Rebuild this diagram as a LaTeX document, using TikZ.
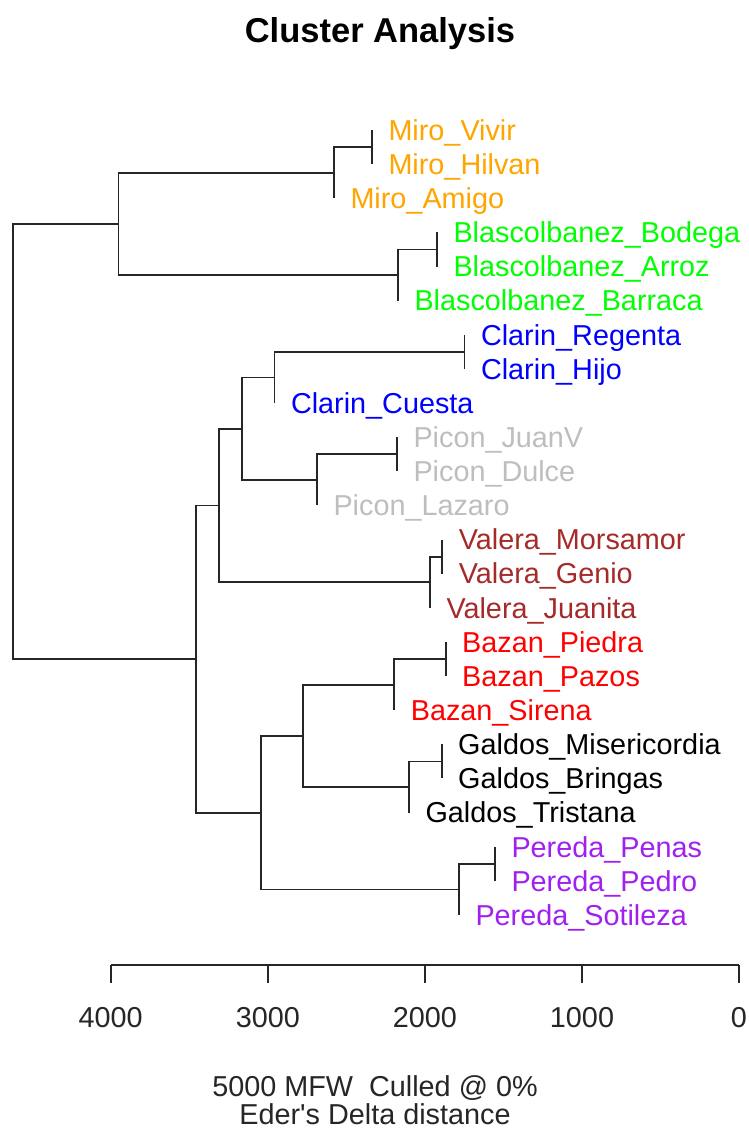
\documentclass[tikz,border=0pt]{standalone}
\usepackage{fontspec}
\setmainfont{Liberation Sans}[Ligatures=TeXOff]
\definecolor{rorange}{HTML}{FFA500}
\definecolor{rgreen}{HTML}{00FF00}
\definecolor{rblue}{HTML}{0000FF}
\definecolor{rgrey}{HTML}{BEBEBE}
\definecolor{rbrown}{HTML}{A52A2A}
\definecolor{rred}{HTML}{FF0000}
\definecolor{rpurple}{HTML}{A020F0}
\newcommand\mkleaf[5]{%
  \coordinate (#1) at (#2,#3);
  \node[leaflab, text=#4] (#1lab) at (#1) {#5};}
\begin{document}
\begin{tikzpicture}[x=1pt,y=-1pt,
  branch/.style={draw=black!85, line width=1.8pt},
  leaflab/.style={anchor=base west, inner sep=0pt, xshift=16.3pt, yshift=-10.3pt,
    font=\fontsize{28.8}{34}\selectfont},
  ticklab/.style={anchor=base, inner sep=0pt, font=\fontsize{28.8}{34}\selectfont, text=black!85},
  titlelab/.style={anchor=base, inner sep=0pt, font=\fontsize{34.5}{40}\selectfont\bfseries},
  xlab/.style={anchor=base, inner sep=0pt, font=\fontsize{28.8}{34}\selectfont, text=black!85}]
\useasboundingbox (0,0) rectangle (749,1133);
\fill[white] (0,0) rectangle (749,1133);

\node[titlelab] (title) at (380,42) {Cluster Analysis};

% leaves
\mkleaf{l0}{372}{130}{rorange}{Miro\_Vivir}
\mkleaf{l1}{372}{164.13}{rorange}{Miro\_Hilvan}
\mkleaf{l2}{334}{198.26}{rorange}{Miro\_Amigo}
\mkleaf{l3}{437}{232.39}{rgreen}{Blascolbanez\_Bodega}
\mkleaf{l4}{437}{266.52}{rgreen}{Blascolbanez\_Arroz}
\mkleaf{l5}{398}{300.65}{rgreen}{Blascolbanez\_Barraca}
\mkleaf{l6}{464.5}{334.78}{rblue}{Clarin\_Regenta}
\mkleaf{l7}{464.5}{368.91}{rblue}{Clarin\_Hijo}
\mkleaf{l8}{274.5}{403.04}{rblue}{Clarin\_Cuesta}
\mkleaf{l9}{397}{437.17}{rgrey}{Picon\_JuanV}
\mkleaf{l10}{397}{471.30}{rgrey}{Picon\_Dulce}
\mkleaf{l11}{317}{505.43}{rgrey}{Picon\_Lazaro}
\mkleaf{l12}{442.3}{539.56}{rbrown}{Valera\_Morsamor}
\mkleaf{l13}{442.3}{573.69}{rbrown}{Valera\_Genio}
\mkleaf{l14}{430}{607.82}{rbrown}{Valera\_Juanita}
\mkleaf{l15}{445.7}{641.95}{rred}{Bazan\_Piedra}
\mkleaf{l16}{445.7}{676.08}{rred}{Bazan\_Pazos}
\mkleaf{l17}{394.3}{710.21}{rred}{Bazan\_Sirena}
\mkleaf{l18}{441.7}{744.34}{black}{Galdos\_Misericordia}
\mkleaf{l19}{441.7}{778.47}{black}{Galdos\_Bringas}
\mkleaf{l20}{409}{812.60}{black}{Galdos\_Tristana}
\mkleaf{l21}{495}{846.73}{rpurple}{Pereda\_Penas}
\mkleaf{l22}{495}{880.86}{rpurple}{Pereda\_Pedro}
\mkleaf{l23}{459}{914.99}{rpurple}{Pereda\_Sotileza}

% internal nodes
\coordinate (M1) at (372,147.07);
\coordinate (M2) at (334,172.67);
\coordinate (B1) at (437,249.46);
\coordinate (B2) at (398,275.06);
\coordinate (MB) at (118.5,223.86);
\coordinate (C1) at (464.5,351.85);
\coordinate (C2) at (274.5,377.44);
\coordinate (P1) at (397,454.24);
\coordinate (P2) at (317,479.83);
\coordinate (CP) at (241.7,428.64);
\coordinate (V1) at (442.3,556.63);
\coordinate (V2) at (430,582.22);
\coordinate (CPV) at (219,505.43);
\coordinate (Z1) at (445.7,659.02);
\coordinate (Z2) at (394.3,684.61);
\coordinate (G1) at (441.7,761.41);
\coordinate (G2) at (409,787.00);
\coordinate (ZG) at (303.3,735.80);
\coordinate (E1) at (495,863.80);
\coordinate (E2) at (459,889.39);
\coordinate (ZGE) at (260.7,812.60);
\coordinate (K) at (195.7,659.01);
\coordinate (R) at (13.3,441.44);

% branches
\draw[branch] (l0) -| (M1) |- (l1);
\draw[branch] (M1) -| (M2) |- (l2);
\draw[branch] (l3) -| (B1) |- (l4);
\draw[branch] (B1) -| (B2) |- (l5);
\draw[branch] (M2) -| (MB) |- (B2);
\draw[branch] (l6) -| (C1) |- (l7);
\draw[branch] (C1) -| (C2) |- (l8);
\draw[branch] (l9) -| (P1) |- (l10);
\draw[branch] (P1) -| (P2) |- (l11);
\draw[branch] (C2) -| (CP) |- (P2);
\draw[branch] (l12) -| (V1) |- (l13);
\draw[branch] (V1) -| (V2) |- (l14);
\draw[branch] (CP) -| (CPV) |- (V2);
\draw[branch] (l15) -| (Z1) |- (l16);
\draw[branch] (Z1) -| (Z2) |- (l17);
\draw[branch] (l18) -| (G1) |- (l19);
\draw[branch] (G1) -| (G2) |- (l20);
\draw[branch] (Z2) -| (ZG) |- (G2);
\draw[branch] (l21) -| (E1) |- (l22);
\draw[branch] (E1) -| (E2) |- (l23);
\draw[branch] (ZG) -| (ZGE) |- (E2);
\draw[branch] (CPV) -| (K) |- (ZGE);
\draw[branch] (MB) -| (R) |- (K);

% axis
\coordinate (a4) at (110.7,965);
\coordinate (a3) at (267.8,965);
\coordinate (a2) at (424.9,965);
\coordinate (a1) at (582,965);
\coordinate (a0) at (739,965);
\draw[branch] (a4) -- (a0);
\foreach \t in {a4,a3,a2,a1,a0} {\draw[branch] (\t) -- ++(0,17.7);}
\node[ticklab] (t4) at (110.7,1027.5) {4000};
\node[ticklab] (t3) at (267.8,1027.5) {3000};
\node[ticklab] (t2) at (424.9,1027.5) {2000};
\node[ticklab] (t1) at (582,1027.5) {1000};
\node[ticklab] (t0) at (739,1027.5) {0};

\node[xlab] (xl1) at (375,1096.7) {5000 MFW\ \ Culled @ 0\%};
\node[xlab] (xl2) at (375,1124) {Eder's Delta distance};
\end{tikzpicture}
\end{document}
